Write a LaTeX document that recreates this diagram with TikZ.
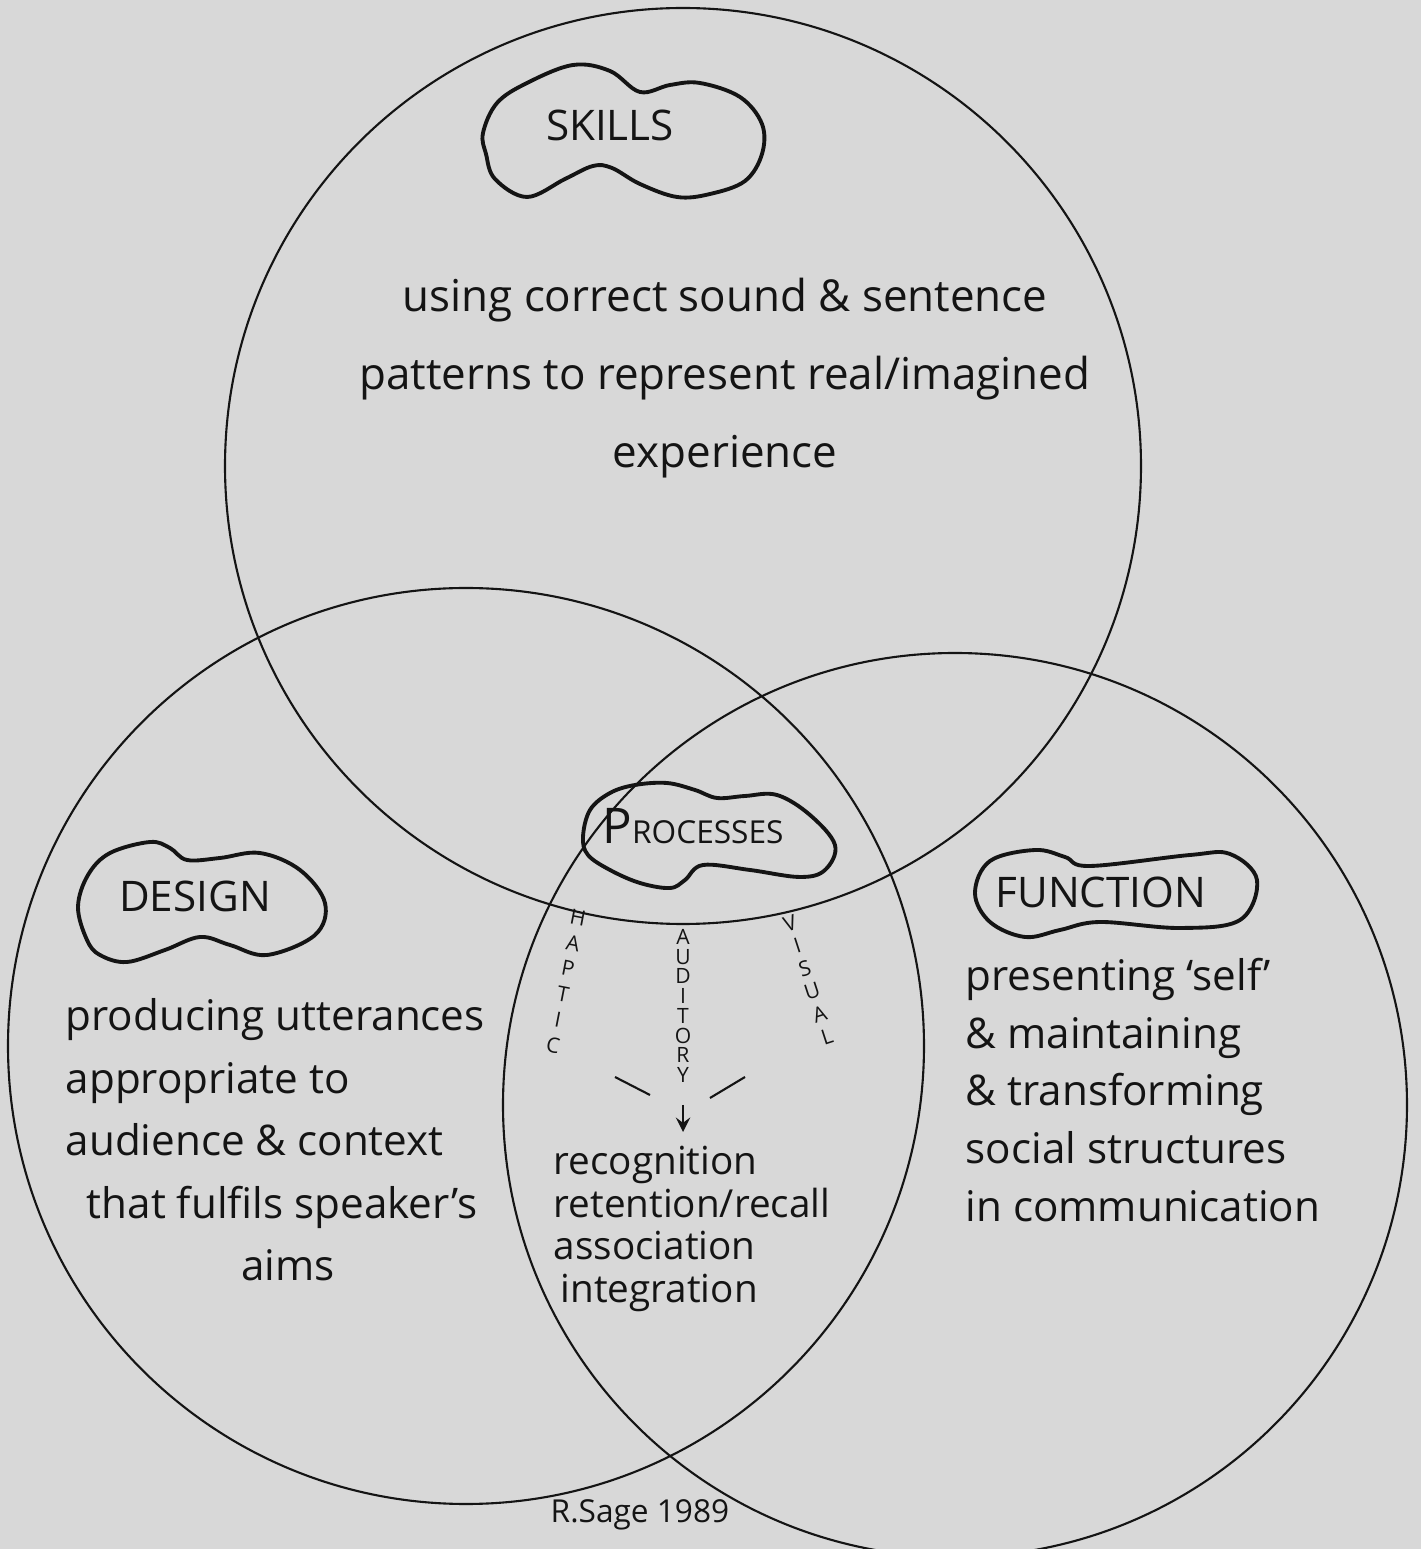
\documentclass[tikz,border=0pt]{standalone}
\usepackage{fontspec}
\setmainfont{Open Sans}
\usepackage{tikz}
\usetikzlibrary{arrows,positioning}

\definecolor{paper}{RGB}{216,216,216}
\definecolor{ink}{RGB}{20,20,20}

\begin{document}
\begin{tikzpicture}[
    venn/.style={draw=ink, semithick},
    blob/.style={draw=ink, line width=1.1pt, line join=round},
    title/.style={font=\fontsize{12}{14}\selectfont, text=ink, inner sep=1pt},
    hand/.style={font=\fontsize{12}{#1}\selectfont, text=ink, align=left, inner sep=0pt},
    letter/.style={font=\fontsize{6}{7}\selectfont, text=ink, inner sep=0pt},
    arrow/.style={->, >=stealth, draw=ink, thick}
]

% paper
\fill[paper] (0,0) rectangle (14.21,15.49);
\useasboundingbox (0,0) rectangle (14.21,15.49);

% The three circles
\draw[venn] (6.83,10.83) circle (4.58);
\draw[venn] (4.66,5.03) circle (4.58);
\draw[venn] (9.55,4.44) circle (4.52);

% Skills
\draw[blob] plot[smooth cycle, tension=0.6] coordinates {(4.83,14.16) (4.97,14.46) (5.27,14.66) (5.73,14.84) (6.10,14.78) (6.40,14.57) (6.70,14.64) (7.00,14.66) (7.40,14.52) (7.62,14.25) (7.62,13.95) (7.45,13.68) (7.10,13.55) (6.77,13.52) (6.40,13.65) (6.12,13.81) (5.93,13.83) (5.65,13.70) (5.27,13.52) (4.95,13.70) (4.86,13.95)};
\node[title] (skills) at (6.10,14.24) {SKILLS};
\node[hand=22.2, align=center, font=\fontsize{12.5}{22.2}\selectfont] (skillstext) at (7.25,11.71) {using correct sound \& sentence\\patterns to represent real/imagined\\experience};

% Design
\draw[blob] plot[smooth cycle, tension=0.6] coordinates {(0.78,6.42) (0.88,6.74) (1.10,6.96) (1.50,7.07) (1.70,7.01) (1.87,6.89) (2.20,6.91) (2.60,6.96) (3.00,6.79) (3.25,6.46) (3.15,6.14) (2.67,5.94) (2.30,6.04) (2.00,6.12) (1.65,5.99) (1.27,5.87) (1.00,5.94) (0.87,6.09)};
\node[title] (design) at (1.95,6.53) {DESIGN};
\node[hand=17.8, anchor=west] (designtext) at (0.65,4.09) {producing utterances\\appropriate to\\audience \& context\\\hspace*{6pt}that fulfils speaker's\\\hspace*{50pt}aims};

% Function
\draw[blob] plot[smooth cycle, tension=0.6] coordinates {(9.75,6.56) (9.90,6.88) (10.35,6.99) (10.65,6.92) (10.90,6.83) (11.90,6.94) (12.30,6.95) (12.57,6.69) (12.40,6.29) (11.80,6.21) (11.00,6.27) (10.60,6.19) (10.25,6.12) (9.90,6.27)};
\node[title] (function) at (11.01,6.57) {FUNCTION};
\node[hand=16.4, anchor=west] (functiontext) at (9.65,4.59) {presenting `self'\\\& maintaining\\\& transforming\\social structures\\in communication};

% Processes
\draw[blob] plot[smooth cycle, tension=0.6] coordinates {(5.83,7.12) (5.90,7.39) (6.10,7.56) (6.35,7.64) (6.67,7.66) (6.95,7.59) (7.17,7.51) (7.45,7.53) (7.77,7.54) (8.10,7.34) (8.35,7.04) (8.25,6.79) (8.00,6.72) (7.50,6.79) (7.03,6.84) (6.85,6.69) (6.70,6.61) (6.40,6.66) (6.10,6.79) (5.88,6.94)};
\node[title] (processes) at (6.93,7.23) {{\fontsize{14}{14}\selectfont P}{\fontsize{9}{9}\selectfont ROCESSES}};

% the three senses
\foreach \l [count=\i] in {H,A,P,T,I,C}
  \node[letter, rotate=-11] (haptic\i) at ({5.78-0.05*(\i-1)},{6.31-0.254*(\i-1)}) {\l};
\foreach \l [count=\i] in {A,U,D,I,T,O,R,Y}
  \node[letter] (auditory\i) at (6.83,{6.12-0.197*(\i-1)}) {\l};
\foreach \l [count=\i] in {V,I,S,U,A,L}
  \node[letter, rotate=18] (visual\i) at ({7.90+0.074*(\i-1)},{6.26-0.228*(\i-1)}) {\l};

\draw[ink, semithick] (6.15,4.72) -- (6.50,4.54);
\draw[ink, semithick] (7.10,4.51) -- (7.45,4.72);
\coordinate (arrowtop) at (6.83,4.44);
\coordinate (arrowtip) at (6.83,4.17);
\draw[arrow] (arrowtop) -- (arrowtip);

\node[hand=12.1, anchor=west, font=\fontsize{11}{12.1}\selectfont] (processtext) at (5.53,3.20) {recognition\\retention/recall\\association\\\hspace*{2pt}integration};

% signature
\node[font=\fontsize{9}{10}\selectfont, text=ink] (sage) at (6.40,0.34) {R.Sage 1989};

\end{tikzpicture}
\end{document}
